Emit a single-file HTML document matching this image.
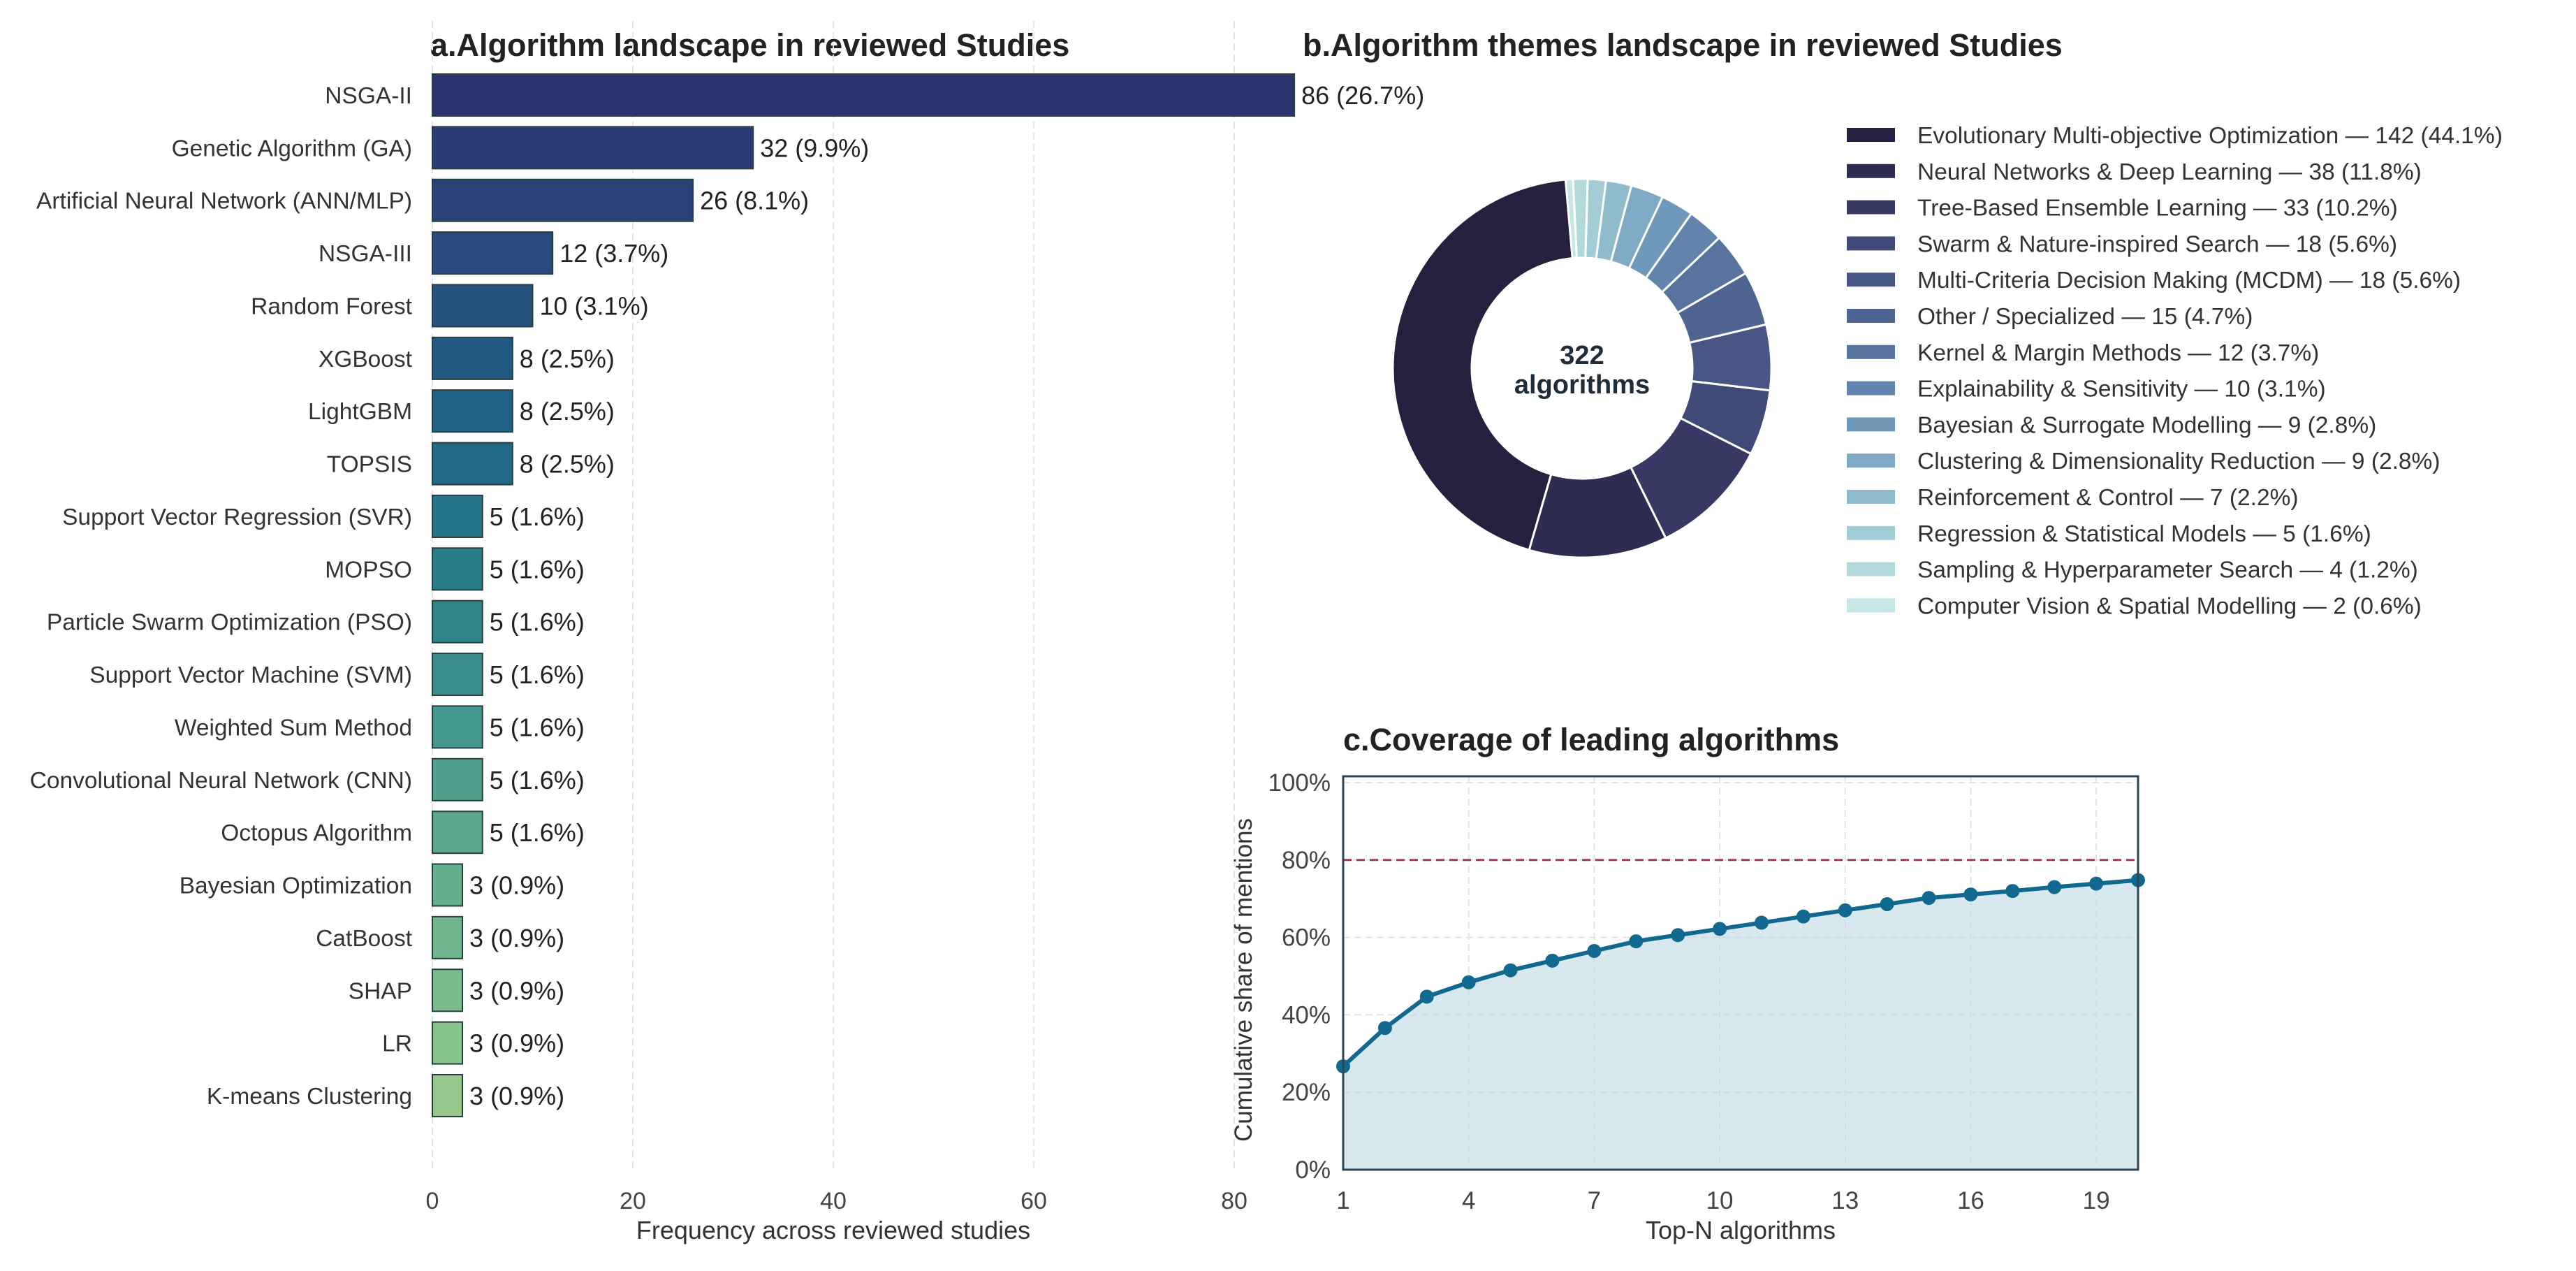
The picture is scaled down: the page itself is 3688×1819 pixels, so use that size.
<!DOCTYPE html>
<html><head><meta charset="utf-8"><style>
html,body{margin:0;padding:0;background:#fff;}
svg{display:block;font-family:"Liberation Sans",Arial,sans-serif;}
</style></head><body>
<svg id="fig" width="3688" height="1819" viewBox="0 0 3688 1819" xmlns="http://www.w3.org/2000/svg">
<rect width="3688" height="1819" fill="#fff"/>
<g id="pa"></g>
<g id="pb"></g>
<g id="pc"></g>
</svg>
<script>
// ---- Panel a data ----
const algoNames = ["NSGA-II","Genetic Algorithm (GA)","Artificial Neural Network (ANN/MLP)","NSGA-III","Random Forest","XGBoost","LightGBM","TOPSIS","Support Vector Regression (SVR)","MOPSO","Particle Swarm Optimization (PSO)","Support Vector Machine (SVM)","Weighted Sum Method","Convolutional Neural Network (CNN)","Octopus Algorithm","Bayesian Optimization","CatBoost","SHAP","LR","K-means Clustering"];
const algoCounts = [86,32,26,12,10,8,8,8,5,5,5,5,5,5,5,3,3,3,3,3];
const algoPct = ["26.7","9.9","8.1","3.7","3.1","2.5","2.5","2.5","1.6","1.6","1.6","1.6","1.6","1.6","1.6","0.9","0.9","0.9","0.9","0.9"];
const xTicksA = [0,20,40,60,80];
// ---- Panel b data ----
const themeNames = ["Evolutionary Multi-objective Optimization","Neural Networks & Deep Learning","Tree-Based Ensemble Learning","Swarm & Nature-inspired Search","Multi-Criteria Decision Making (MCDM)","Other / Specialized","Kernel & Margin Methods","Explainability & Sensitivity","Bayesian & Surrogate Modelling","Clustering & Dimensionality Reduction","Reinforcement & Control","Regression & Statistical Models","Sampling & Hyperparameter Search","Computer Vision & Spatial Modelling"];
const themeCounts = [142,38,33,18,18,15,12,10,9,9,7,5,4,2];
const themePct = ["44.1","11.8","10.2","5.6","5.6","4.7","3.7","3.1","2.8","2.8","2.2","1.6","1.2","0.6"];
// ---- Panel c data ----
const topN = [1,2,3,4,5,6,7,8,9,10,11,12,13,14,15,16,17,18,19,20];
const cumShare = [26.7,36.6,44.7,48.4,51.5,54.0,56.5,59.0,60.6,62.2,63.8,65.4,67.0,68.6,70.2,71.1,72.0,73.0,73.9,74.8];
const yTicksC = [0,20,40,60,80,100];
const xTicksC = [1,4,7,10,13,16,19];
const threshold = 80;

const NS="http://www.w3.org/2000/svg";
function mk(parent,tag,attrs,text){const e=document.createElementNS(NS,tag);for(const k in attrs)e.setAttribute(k,attrs[k]);if(text!==undefined)e.textContent=text;parent.appendChild(e);return e;}
function lerpColor(stops,t){const n=stops.length-1;const i=Math.min(n-1,Math.floor(t*n));const f=t*n-i;const a=stops[i],b=stops[i+1];const h=s=>[parseInt(s.slice(1,3),16),parseInt(s.slice(3,5),16),parseInt(s.slice(5,7),16)];const A=h(a),B=h(b);return "rgb("+A.map((v,k)=>Math.round(v+(B[k]-v)*f)).join(",")+")";}

// ===== Panel a =====
const pa=document.getElementById('pa');
const ax0=619, axUnit=(1767-619)/80, rowTop=136, rowPitch=(1568-136)/19, barH=60;
const xA=v=>ax0+v*axUnit;
const yA=i=>rowTop+i*rowPitch;
const ta=mk(pa,'text',{x:616,y:80,'font-size':45,'font-weight':'bold',fill:'#222'},'a.Algorithm landscape in reviewed Studies');


xTicksA.forEach(t=>{
  const g=mk(pa,'line',{x1:xA(t),x2:xA(t),y1:30,y2:1675,stroke:'#e6e6e6','stroke-width':2,'stroke-dasharray':'10,6'});
  
  
  const tl=mk(pa,'text',{x:xA(t),y:1730,'font-size':34,fill:'#444','text-anchor':'middle'},String(t));
  
  
});
const t1=mk(pa,'text',{x:(xA(0)+xA(80))/2,y:1773,'font-size':36,fill:'#333','text-anchor':'middle'},'Frequency across reviewed studies');


const barStops=["#2c3470","#284b7e","#1f6587","#2a7f8a","#4b9e8c","#6db58c","#94c98b"];
algoNames.forEach((n,i)=>{
  const cy=yA(i);
  const c=lerpColor(barStops,i/(algoNames.length-1));
  const r=mk(pa,'rect',{x:xA(0),y:cy-barH/2,width:xA(algoCounts[i])-xA(0),height:barH,fill:c,stroke:'#2a3d3d','stroke-width':2});
  
  
  const l=mk(pa,'text',{x:590,y:cy+12,'font-size':33.5,fill:'#333','text-anchor':'end'},n);
  
  
  const v=mk(pa,'text',{x:xA(algoCounts[i])+10,y:cy+13,'font-size':36,fill:'#222'},algoCounts[i]+' ('+algoPct[i]+'%)');
  
  
});

// ===== Panel b =====
const pb=document.getElementById('pb');
const tb=mk(pb,'text',{x:1865,y:80,'font-size':45,'font-weight':'bold',fill:'#222'},'b.Algorithm themes landscape in reviewed Studies');


const themeColors=["#26203f","#2f2c52","#373863","#3f4a76","#475683","#4f6490","#58739e","#6283ab","#6f98b9","#7eaac4","#8fbccc","#a2cdd4","#b3d8da","#c6e5e5"];
const cx=2265, cy=527, R=271, r0=158;
const total=themeCounts.reduce((a,b)=>a+b,0);
let ang=95*Math.PI/180;
themeCounts.forEach((v,i)=>{
  const a0=ang, a1=ang+v/total*2*Math.PI; ang=a1;
  const p=(a,rr)=>[cx+rr*Math.cos(a), cy-rr*Math.sin(a)];
  const large=(a1-a0)>Math.PI?1:0;
  const [x0,y0]=p(a0,R),[x1,y1]=p(a1,R),[x2,y2]=p(a1,r0),[x3,y3]=p(a0,r0);
  const d=`M${x0},${y0} A${R},${R} 0 ${large} 0 ${x1},${y1} L${x2},${y2} A${r0},${r0} 0 ${large} 1 ${x3},${y3} Z`;
  const s=mk(pb,'path',{d:d,fill:themeColors[i],stroke:'#fff','stroke-width':3});
  
  
  const ly=193+i*51.8;
  const sw=mk(pb,'rect',{x:2644,y:ly-10,width:69,height:20,fill:themeColors[i]});
  
  
  const lt=mk(pb,'text',{x:2745,y:ly+12,'font-size':33.5,fill:'#333'},themeNames[i]+' \u2014 '+v+' ('+themePct[i]+'%)');
  
  
});
const c1=mk(pb,'text',{x:cx,y:cy-6,'font-size':38,'font-weight':'bold',fill:'#1f2d3a','text-anchor':'middle'},'322');


const c2=mk(pb,'text',{x:cx,y:cy+36,'font-size':38,'font-weight':'bold',fill:'#1f2d3a','text-anchor':'middle'},'algorithms');



// ===== Panel c =====
const pc=document.getElementById('pc');
const L=1923, Rr=3061, T=1111, B=1674;
const xC=v=>L+(v-1)*(Rr-L)/19;
const yC=v=>B-v*(B-1120)/100;
const tc=mk(pc,'text',{x:1923,y:1074,'font-size':45,'font-weight':'bold',fill:'#222'},'c.Coverage of leading algorithms');


yTicksC.forEach(t=>{
  const g=mk(pc,'line',{x1:L,x2:Rr,y1:yC(t),y2:yC(t),stroke:'#e3e3e3','stroke-width':2,'stroke-dasharray':'10,6'});
  
  
  const tl=mk(pc,'text',{x:1905,y:yC(t)+12,'font-size':35,fill:'#444','text-anchor':'end'},t+'%');
  
  
});
xTicksC.forEach(t=>{
  const g=mk(pc,'line',{x1:xC(t),x2:xC(t),y1:T,y2:B,stroke:'#e3e3e3','stroke-width':2,'stroke-dasharray':'10,6'});
  
  
  const tl=mk(pc,'text',{x:xC(t),y:1730,'font-size':35,fill:'#444','text-anchor':'middle'},String(t));
  
  
});
let fillD=`M${xC(topN[0])},${yC(0)} `+topN.map((n,i)=>`L${xC(n)},${yC(cumShare[i])}`).join(' ')+` L${xC(topN[topN.length-1])},${yC(0)} Z`;
const area=mk(pc,'path',{d:fillD,fill:'#c3dbe6','fill-opacity':0.65});


const th=mk(pc,'line',{x1:L,x2:Rr,y1:yC(threshold),y2:yC(threshold),stroke:'#a5376f','stroke-width':3,'stroke-dasharray':'12,7'});


const ln=mk(pc,'polyline',{points:topN.map((n,i)=>xC(n)+','+yC(cumShare[i])).join(' '),fill:'none',stroke:'#12698f','stroke-width':6,'stroke-linejoin':'round'});


topN.forEach((n,i)=>{
  const c=mk(pc,'circle',{cx:xC(n),cy:yC(cumShare[i]),r:10,fill:'#12698f'});
  
  
});
const fr=mk(pc,'rect',{x:L,y:T,width:Rr-L,height:B-T,fill:'none',stroke:'#2d4656','stroke-width':3});


const yt=mk(pc,'text',{x:0,y:0,'font-size':35,fill:'#333','text-anchor':'middle',transform:`translate(1792,${(T+B)/2+10}) rotate(-90)`},'Cumulative share of mentions');


const xt=mk(pc,'text',{x:(L+Rr)/2,y:1773,'font-size':36,fill:'#333','text-anchor':'middle'},'Top-N algorithms');


</script>
</body></html>
